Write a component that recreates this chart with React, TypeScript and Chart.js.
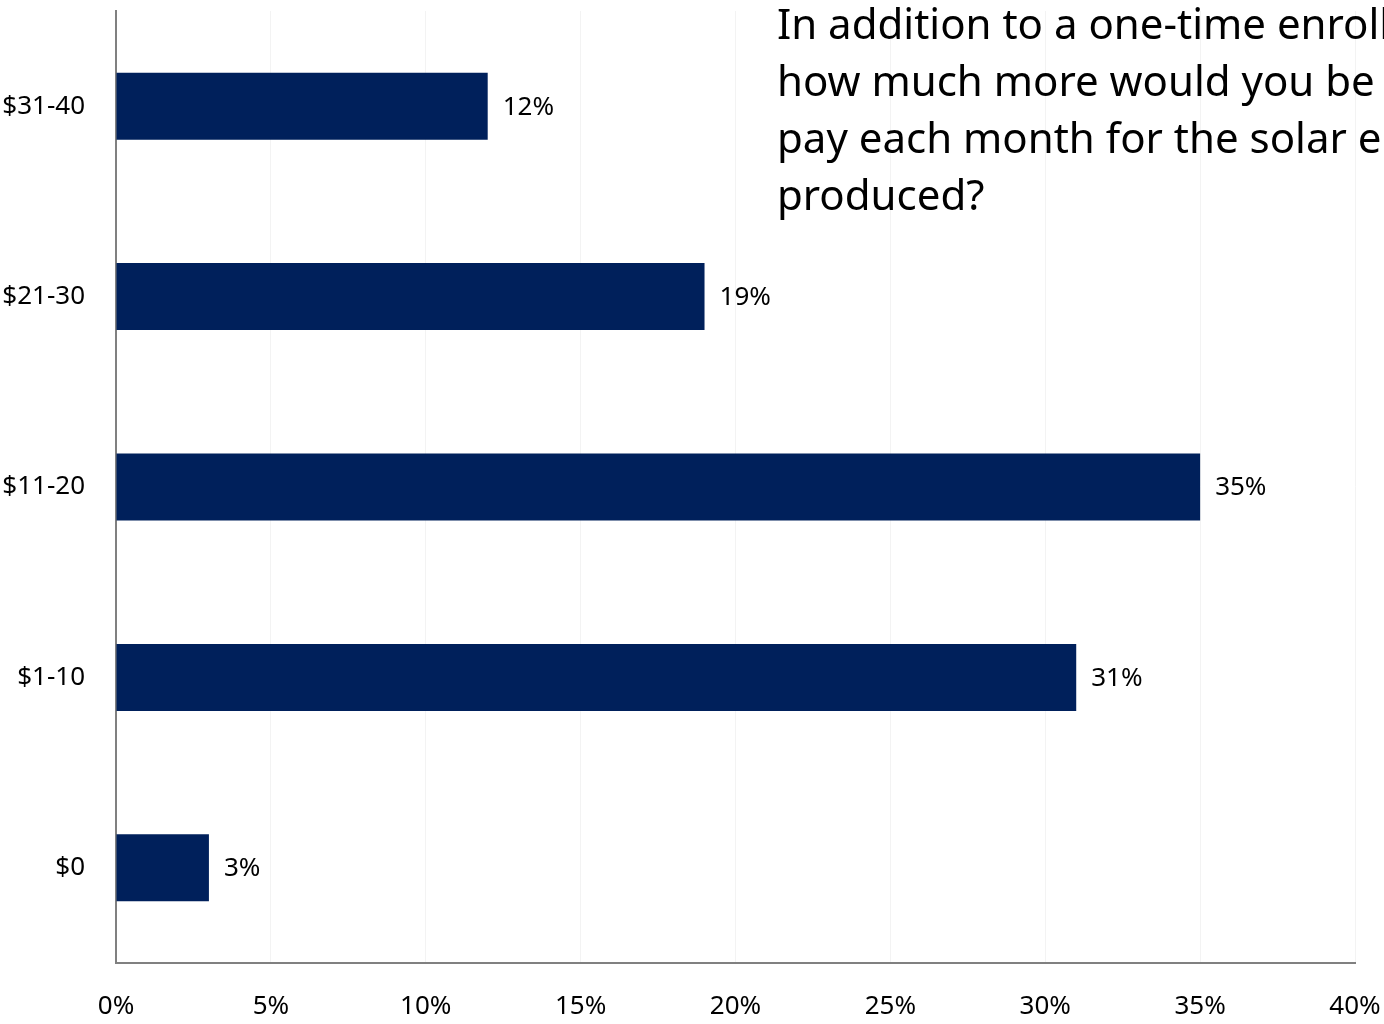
import React, { useEffect, useRef } from "react";
import { Chart, registerables } from "chart.js";

Chart.register(...registerables);

const categories = ["$31-40", "$21-30", "$11-20", "$1-10", "$0"];
const values = [12, 19, 35, 31, 3];
const xTicks = [0, 5, 10, 15, 20, 25, 30, 35, 40];
const titleLines = [
  "In addition to a one-time enrollment fee,",
  "how much more would you be willing to",
  "pay each month for the solar energy",
  "produced?",
];

const FONT = "'Noto Sans', 'Open Sans', sans-serif";

export default function App() {
  const ref = useRef<HTMLCanvasElement | null>(null);

  useEffect(() => {
    document.body.style.margin = "0";
    const canvas = ref.current;
    if (!canvas) return;

    const labelPlugin = {
      id: "valueLabels",
      afterDatasetsDraw(chart: any) {
        const ctx = chart.ctx;
        const meta = chart.getDatasetMeta(0);
        ctx.save();
        ctx.font = `26px ${FONT}`;
        ctx.fillStyle = "#000";
        ctx.textAlign = "left";
        ctx.textBaseline = "middle";
        meta.data.forEach((bar: any, i: number) => {
          ctx.fillText(`${values[i]}%`, bar.x + 15, bar.y + 1);
        });
        ctx.restore();
      },
    };

    const titlePlugin = {
      id: "sideTitle",
      afterDraw(chart: any) {
        const ctx = chart.ctx;
        ctx.save();
        ctx.font = `42px ${FONT}`;
        ctx.fillStyle = "#000";
        ctx.textAlign = "left";
        ctx.textBaseline = "alphabetic";
        titleLines.forEach((line, i) => {
          ctx.fillText(line, 777, 39 + i * 57);
        });
        ctx.restore();
      },
    };

    const chart = new Chart(canvas, {
      type: "bar",
      data: {
        labels: categories,
        datasets: [
          {
            data: values,
            backgroundColor: "#00205B",
            borderWidth: 0,
            barPercentage: 0.352,
            categoryPercentage: 1,
          },
        ],
      },
      plugins: [labelPlugin, titlePlugin],
      options: {
        indexAxis: "y",
        animation: false,
        responsive: false,
        maintainAspectRatio: false,
        layout: { padding: { top: 11, right: 29, left: 0, bottom: 0 } },
        plugins: {
          legend: { display: false },
          tooltip: { enabled: false },
          title: { display: false },
        },
        scales: {
          x: {
            min: 0,
            max: 40,
            afterBuildTicks(scale: any) {
              scale.ticks = xTicks.map((v) => ({ value: v }));
            },
            afterFit(scale: any) {
              scale.height = 61;
              scale.paddingLeft = 0;
              scale.paddingRight = 0;
              scale.paddingTop = 0;
              scale.paddingBottom = 0;
            },
            ticks: {
              callback: (v: any) => `${v}%`,
              font: { family: FONT, size: 26 },
              color: "#000",
              padding: 28,
              maxRotation: 0,
              autoSkip: false,
            },
            grid: {
              color: "#f3f3f3",
              lineWidth: 1,
              drawTicks: false,
            },
            border: { color: "#808080", width: 2 },
          },
          y: {
            afterFit(scale: any) {
              scale.width = 116;
              scale.paddingLeft = 0;
              scale.paddingRight = 0;
              scale.paddingTop = 0;
              scale.paddingBottom = 0;
            },
            ticks: {
              font: { family: FONT, size: 26 },
              color: "#000",
              padding: 31,
            },
            grid: { display: false, drawTicks: false },
            border: { color: "#808080", width: 2 },
          },
        },
      },
    });

    return () => chart.destroy();
  }, []);

  return (
    <div style={{ position: "fixed", left: 0, top: 0, width: 1384, height: 1024, background: "#fff" }}>
      <canvas ref={ref} width={1384} height={1024} style={{ width: 1384, height: 1024, display: "block" }} />
    </div>
  );
}
